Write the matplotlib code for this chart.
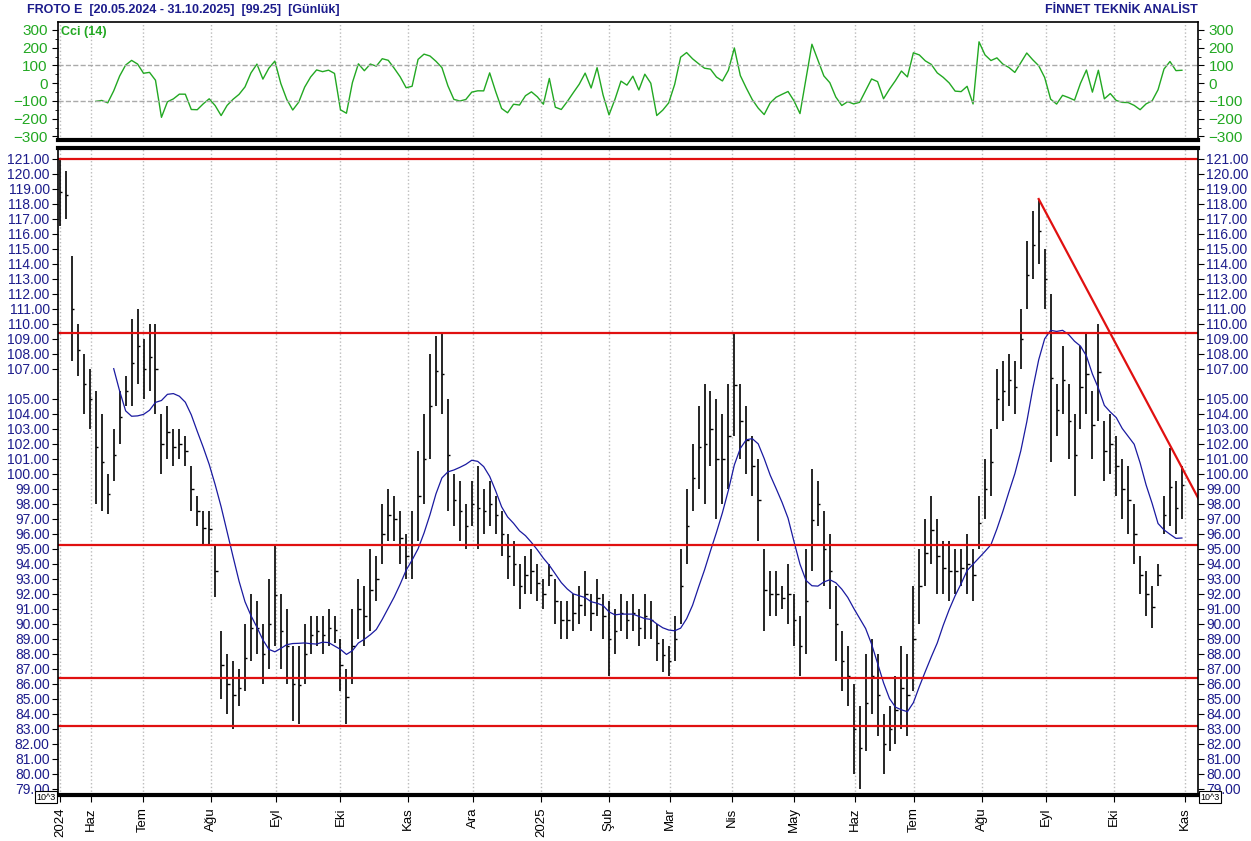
import numpy as np
import pandas as pd
import matplotlib
matplotlib.use("Agg")
import matplotlib.pyplot as plt

plt.rcParams["font.family"] = ["Liberation Sans", "DejaVu Sans"]

# two-day bars, 20.05.2024 - 31.10.2025
highs = [121, 120.2, 114.5, 110, 108, 107, 105.5, 104, 100, 103, 105.5, 106.5, 110.3, 111, 109, 110, 110,
         104, 104.5, 103, 103, 102.5, 100.5, 98.5, 97.5, 97.5, 95.2, 89.5, 88, 87.5, 87, 90, 92, 91.5, 90,
         93, 95.3, 92, 91, 88.5, 88.5, 90, 90.5, 90.5, 90.5, 91, 90.5, 89, 87, 91, 93, 92.5, 95, 94.5, 98,
         99, 98.5, 97.5, 96, 97.5, 101.5, 104, 108, 109.2, 109.3, 105, 100, 99.5, 98, 99.5, 100.5, 99, 99.5,
         98.5, 97.5, 96, 95.5, 94, 94.5, 95, 94, 93, 94, 93, 91.5, 91.5, 92, 92.5, 93.5, 92, 93, 92, 91.5,
         91, 92, 91.5, 92, 91, 92, 91.5, 90, 89, 88.5, 90.5, 95, 99, 102, 104.5, 106, 105.5, 105, 104, 106,
         109.3, 106, 104.5, 102.5, 101, 95, 93.5, 93.5, 92.5, 94, 92, 90.5, 95, 100.3, 99.5, 97.5, 96, 92.5,
         89.5, 88.5, 86, 84.5, 88, 89, 88, 84, 84.5, 86.5, 88.5, 88, 92.5, 95, 97, 98.5, 97, 95.5, 95.5, 95,
         95, 96, 95, 98.5, 101, 103, 107, 107.5, 108, 107.5, 111, 115.5, 117.5, 118.3, 115, 112, 106, 108.5,
         106, 104, 108.5, 109.3, 105.5, 110, 103.5, 104, 102.5, 101, 100.5, 98, 94.5, 93.5, 92.5, 94, 98.5,
         101.7, 99.5, 100.5]
lows = [116.5, 117, 107.5, 106.5, 104, 103, 98, 97.5, 97.3, 99.5, 102, 104.5, 104.5, 106, 105, 105.5, 104,
        100, 101, 100.5, 101, 100.5, 97.5, 96.5, 95.3, 95.2, 91.8, 85, 84, 83, 84.5, 85.5, 87.5, 88, 86,
        87, 88.5, 87, 86, 83.5, 83.3, 86, 88, 88.5, 88, 88.5, 88.7, 85.5, 83.3, 86, 89, 88.5, 89.5, 91.5, 94,
        95.5, 95.5, 94, 93, 93, 95.5, 98, 101, 104.5, 104, 97.5, 96.5, 95.5, 95, 96.5, 95, 96, 96.5,
        96, 94.5, 93, 92.5, 91, 92, 92, 91.5, 91, 92.5, 90, 89, 89, 89.5, 90, 90.5, 89.5, 90.5, 89, 86.5,
        88, 89.5, 89, 89.5, 88.5, 89, 89, 87.5, 86.8, 86.5, 87.5, 90, 94, 97.5, 99, 98, 100.5, 97, 98, 99,
        102.5, 101, 100, 98.5, 95.5, 89.5, 90.5, 90.5, 91, 90, 88.5, 86.5, 88, 93.5, 96.5, 92.5, 91, 87.5,
        85.5, 84.5, 80, 79, 81.5, 84, 82.5, 80, 81.5, 82, 83, 82.5, 85.5, 90, 92.5, 94, 92, 92, 91.5, 92,
        92.5, 92, 91.5, 95, 97, 98.5, 103, 103.5, 104.5, 104, 107, 111, 113, 114, 111, 100.8, 102.5, 104,
        101, 98.5, 103, 104, 101, 103.5, 99.5, 100, 98.5, 97, 96, 94, 92, 90.5, 89.7, 92.5, 96,
        96.5, 96, 97]
close_last = 99.25

support_levels = [121.0, 109.4, 95.25, 86.4, 83.2]
trend_end_value = 98.4

month_names = ["2024", "Haz", "Tem", "Ağu", "Eyl", "Eki", "Kas", "Ara", "2025", "Şub", "Mar", "Nis",
               "May", "Haz", "Tem", "Ağu", "Eyl", "Eki", "Kas"]
holidays = ["2024-06-17", "2024-06-18", "2024-06-19", "2024-07-15", "2024-08-30", "2024-10-29",
            "2025-01-01", "2025-03-31", "2025-04-01", "2025-04-23", "2025-05-01", "2025-05-19",
            "2025-06-06", "2025-06-09", "2025-07-15"]

days = pd.bdate_range("2024-05-20", "2025-10-31")
days = days[~days.isin(pd.to_datetime(holidays))]
n = len(highs)
bar_x = np.arange(n) * (len(days) - 1) / (n - 1)
hi = np.array(highs)
lo = np.array(lows)
close = (hi + lo) / 2
close[-1] = close_last

ma = pd.Series(close).rolling(10).mean()

# CCI over 7 two-day bars (~14 days)
tp = pd.Series((hi + lo + close) / 3)
sma = tp.rolling(7).mean()
mad = tp.rolling(7).apply(lambda v: np.mean(np.abs(v - v.mean())), raw=True)
cci = (tp - sma) / (0.015 * mad)

# month tick positions (first trading day of each month), plus November
month_starts = [0]
for i in range(1, len(days)):
    if days[i].month != days[i - 1].month:
        month_starts.append(i)
month_starts.append(len(days))

navy = "#1c1c8c"
green = "#22a822"
W, H = 1251, 841
fig = plt.figure(figsize=(W / 100, H / 100), dpi=100)
x0, x1 = 58, 1198
ppd = (1185 - 60) / len(days)
xl = (-2 / ppd, (x1 - x0 - 2) / ppd)

ax_c = fig.add_axes([x0 / W, 1 - 140 / H, (x1 - x0) / W, 118 / H])
ax_p = fig.add_axes([x0 / W, 1 - 795 / H, (x1 - x0) / W, 647 / H])

# CCI panel
ax_c.plot(bar_x, cci, color=green, lw=1)
for lv in (100, -100):
    ax_c.axhline(lv, color="#aaaaaa", ls="--", lw=1)
ax_c.set_ylim(-320, 345)
ax_c.set_yticks([300, 200, 100, 0, -100, -200, -300])
ax_c.set_yticks(np.arange(-300, 301, 50), minor=True)
ax_c.tick_params(axis="y", which="both", left=True, right=True, labelleft=True, labelright=True,
                 labelcolor=green, labelsize=11, length=4)
ax_c.tick_params(axis="y", which="minor", length=2)
ax_c.text(0.003, 0.97, "Cci (14)", transform=ax_c.transAxes, color=green, fontsize=9,
          fontweight="bold", va="top")

# price panel
ax_p.vlines(bar_x, lo, hi, color="black", lw=1.2)
ax_p.hlines(close, bar_x, bar_x + 0.8, color="black", lw=1)
ax_p.plot(bar_x, ma, color="#1a1aa0", lw=0.9)
for lv in support_levels:
    ax_p.axhline(lv, color="#e01010", lw=1.6)
# falling trend line from the 2025 peak
pk = n // 2 + int(np.argmax(hi[n // 2:]))
ax_p.plot([bar_x[pk], xl[1]], [hi[pk], trend_end_value], color="#e01010", lw=1.6)
ax_p.set_ylim(78.6, 121.7)
pt = [v for v in range(79, 122) if v != 106]
ax_p.set_yticks(pt)
ax_p.set_yticklabels(["%.2f" % v for v in pt])
ax_p.tick_params(axis="y", left=True, right=True, labelleft=True, labelright=True,
                 labelcolor=navy, labelsize=10, length=4, pad=2)

for ax in (ax_c, ax_p):
    ax.set_xlim(*xl)
    ax.set_xticks(month_starts)
    ax.grid(axis="x", color="#bbbbbb", ls=":", lw=1)
    for s in ax.spines.values():
        s.set_linewidth(1.2)
ax_c.tick_params(axis="x", bottom=False, labelbottom=False)
ax_c.spines["bottom"].set_linewidth(3)
ax_p.spines["top"].set_linewidth(3)
ax_p.spines["bottom"].set_linewidth(3)
ax_p.set_xticklabels(month_names, rotation=90, fontsize=9.5, color="black")
ax_p.tick_params(axis="x", length=5, pad=4)

for xf in (36 / W, 1200 / W):
    fig.text(xf, 1 - 797 / H, "10^3", fontsize=6.5, ha="left", va="center",
             bbox=dict(boxstyle="square,pad=0.15", fc="white", ec="black", lw=0.8))

fig.text(27 / W, 1 - 10 / H, "FROTO E  [20.05.2024 - 31.10.2025]  [99.25]  [Günlük]",
         color=navy, fontsize=9, fontweight="bold", va="center")
fig.text(1198 / W, 1 - 10 / H, "FİNNET TEKNİK ANALİST", color=navy, fontsize=9,
         fontweight="bold", va="center", ha="right")

fig.savefig("out.png", dpi=100)
